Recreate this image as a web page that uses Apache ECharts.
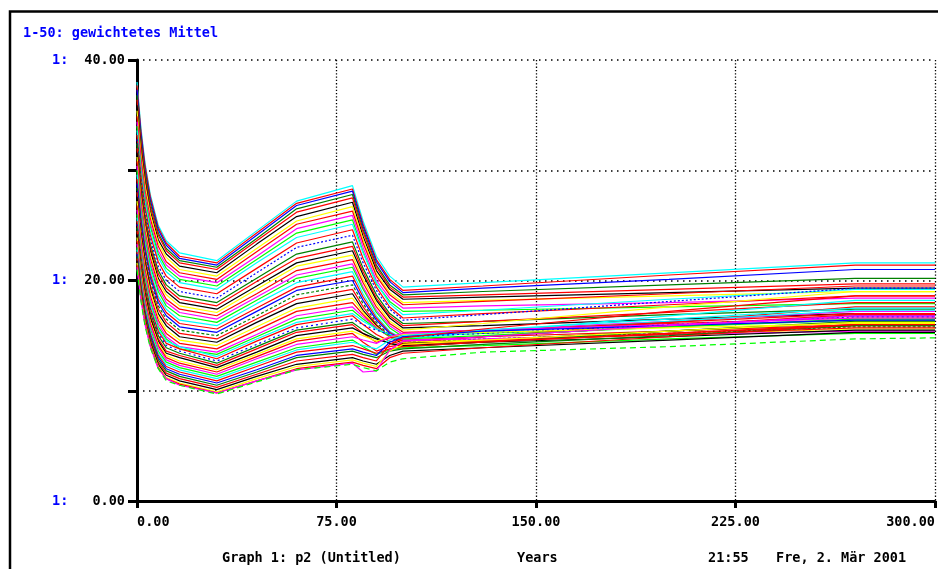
<!DOCTYPE html>
<html>
<head>
<meta charset="utf-8">
<script src="https://cdn.jsdelivr.net/npm/echarts@6/dist/echarts.min.js"></script>
<style>
html,body{margin:0;padding:0;background:#fff;}
#chart{width:938px;height:569px;}
</style>
</head>
<body>
<div id="chart"></div>
<script>
// ---- data ----
const years = [0, 1.5, 3, 5, 8, 11, 16, 30, 45, 60, 81, 85, 90, 95, 100, 130, 200, 270, 300];
const xTickValues = [0, 75, 150, 225, 300];
const yTickValues = [0, 10, 20, 30, 40];
const titleText = '1-50: gewichtetes Mittel';
const footerGraph = 'Graph 1: p2 (Untitled)';
const footerUnit = 'Years';
const footerTime = '21:55';
const footerDate = 'Fre, 2. Mär 2001';

const p01 = [38.0,33.8,30.7,27.8,25.0,23.6,22.5,21.8,24.5,27.2,28.6,25.4,22.2,20.4,19.4,19.8,20.7,21.6,21.6];
const p02 = [37.7,33.5,30.5,27.6,24.8,23.4,22.2,21.6,24.3,27.0,28.3,25.1,21.9,20.1,19.1,19.5,20.5,21.4,21.4];
const p03 = [37.3,33.2,30.1,27.3,24.6,23.2,22.0,21.4,24.1,26.8,28.1,24.9,21.7,19.9,18.9,19.3,20.1,21.0,21.0];
const p04 = [36.8,32.7,29.8,27.0,24.3,22.9,21.8,21.2,23.8,26.5,27.8,24.6,21.4,19.6,18.7,19.0,19.6,20.2,20.2];
const p05 = [36.4,32.4,29.5,26.7,24.1,22.7,21.6,21.0,23.6,26.2,27.5,24.4,21.2,19.4,18.5,18.7,19.2,19.7,19.7];
const p06 = [35.9,31.9,29.1,26.3,23.7,22.4,21.3,20.7,23.3,25.8,27.1,24.0,20.9,19.2,18.3,18.5,18.9,19.3,19.3];
const p07 = [35.4,31.5,28.7,26.0,23.4,22.1,21.0,20.4,22.9,25.4,26.7,23.7,20.6,18.9,18.0,18.2,18.6,19.0,19.0];
const p08 = [34.9,31.1,28.2,25.6,23.1,21.7,20.7,20.1,22.6,25.1,26.3,23.4,20.4,18.7,17.8,18.1,18.8,19.5,19.5];
const p09 = [34.4,30.6,27.8,25.2,22.7,21.4,20.4,19.8,22.2,24.7,25.9,23.0,20.0,18.4,17.5,17.7,18.0,18.4,18.4];
const p10 = [34.0,30.2,27.5,24.9,22.4,21.1,20.1,19.5,21.9,24.3,25.5,22.6,19.7,18.1,17.2,17.3,17.6,17.9,17.9];
const p11 = [33.6,29.9,27.1,24.5,22.1,20.8,19.8,19.2,21.6,23.9,25.1,22.5,19.8,17.9,16.9,17.3,18.3,19.2,19.2];
const p12 = [33.2,29.5,26.7,24.1,21.7,20.4,19.4,18.8,21.1,23.4,24.6,22.0,19.4,17.6,16.6,17.0,17.8,18.6,18.6];
const p13 = [32.8,29.1,26.3,23.7,21.3,20.0,19.0,18.4,20.7,23.0,24.1,21.6,19.1,17.4,16.4,16.9,18.1,19.3,19.3];
const p14 = [32.4,28.7,25.9,23.3,20.9,19.6,18.6,18.0,20.2,22.4,23.5,21.1,18.7,17.0,16.1,16.3,16.9,17.4,17.4];
const p15 = [32.0,28.3,25.6,23.0,20.6,19.3,18.3,17.7,19.9,22.0,23.1,20.8,18.4,16.8,15.9,16.3,17.1,18.0,18.0];
const p16 = [31.6,27.9,25.2,22.7,20.2,19.0,18.0,17.4,19.5,21.6,22.7,20.5,18.2,16.6,15.7,15.9,16.5,17.0,17.0];
const p17 = [31.2,27.5,24.9,22.3,19.9,18.7,17.7,17.1,19.2,21.3,22.3,20.1,17.9,16.3,15.5,16.1,17.6,19.0,19.0];
const p18 = [30.8,27.2,24.5,22.0,19.6,18.3,17.4,16.8,18.8,20.9,21.9,19.8,17.6,16.1,15.3,15.5,16.1,16.6,16.6];
const p19 = [30.4,26.8,24.2,21.6,19.3,18.0,17.1,16.5,18.5,20.5,21.5,19.4,17.3,15.9,15.1,15.5,16.3,17.2,17.2];
const p20 = [30.0,26.4,23.8,21.3,19.0,17.7,16.8,16.2,18.2,20.2,21.2,19.2,17.1,15.7,14.9,15.2,15.8,16.4,16.4];
const p21 = [29.6,26.0,23.4,21.0,18.6,17.4,16.4,15.9,17.9,19.8,20.8,18.8,16.8,15.4,14.7,15.3,16.8,18.2,18.2];
const p22 = [29.2,25.7,23.1,20.6,18.3,17.1,16.1,15.6,17.5,19.4,20.4,18.5,16.6,15.3,14.6,14.9,15.4,16.0,16.0];
const p23 = [28.8,25.3,22.7,20.3,18.0,16.8,15.8,15.3,17.2,19.1,20.0,18.2,16.4,15.2,14.5,14.9,15.9,16.8,16.8];
const p24 = [28.4,24.9,22.4,20.0,17.7,16.5,15.5,15.0,16.8,18.7,19.6,17.9,16.2,15.0,14.4,14.7,15.2,15.8,15.8];
const p25 = [28.0,24.5,22.0,19.6,17.4,16.2,15.2,14.7,16.5,18.3,19.2,17.6,16.0,14.9,14.3,14.9,16.2,17.6,17.6];
const p26 = [27.6,24.2,21.7,19.3,17.0,15.9,14.9,14.4,16.2,17.9,18.8,17.3,15.9,14.9,14.3,14.6,15.4,16.2,16.2];
const p27 = [27.2,23.8,21.3,19.0,16.7,15.5,14.6,14.1,15.8,17.5,18.4,17.1,15.8,14.9,14.4,14.6,15.1,15.6,15.6];
const p28 = [26.8,23.4,21.0,18.6,16.4,15.2,14.3,13.8,15.5,17.2,18.0,16.9,15.7,14.9,14.5,14.9,15.9,16.9,16.9];
const p29 = [26.4,23.1,20.6,18.3,16.1,14.9,14.0,13.5,15.1,16.8,17.6,16.7,15.7,15.0,14.6,14.7,15.1,15.4,15.4];
const p30 = [26.0,22.7,20.3,18.0,15.8,14.7,13.8,13.3,14.9,16.5,17.3,16.5,15.6,15.0,14.7,15.0,15.8,16.5,16.5];
const p31 = [25.7,22.4,20.0,17.8,15.6,14.5,14.0,13.1,14.7,16.2,17.0,16.3,15.6,15.1,14.8,15.3,16.3,17.3,17.3];
const p32 = [25.4,22.2,19.8,17.5,15.4,14.3,13.8,12.9,14.5,16.0,16.8,16.0,15.1,14.5,14.2,14.5,15.2,15.9,15.9];
const p33 = [25.1,21.9,19.5,17.3,15.2,14.1,13.6,12.7,14.2,15.7,16.5,16.0,15.5,15.1,14.9,15.2,16.0,16.7,16.7];
const p34 = [24.8,21.6,19.3,17.1,15.0,13.9,13.4,12.5,14.0,15.5,16.2,15.5,14.8,14.3,14.0,14.4,15.4,16.3,16.3];
const p35 = [24.5,21.3,19.0,16.8,14.7,13.6,13.2,12.3,13.8,15.3,16.0,15.2,14.4,14.8,15.0,15.4,16.2,17.0,17.0];
const p36 = [24.2,21.1,18.8,16.6,14.5,13.4,13.0,12.1,13.5,15.0,15.7,15.2,14.7,14.3,14.1,14.4,14.9,15.5,15.5];
const p37 = [23.9,20.8,18.5,16.3,14.3,13.2,12.7,11.9,13.3,14.7,15.4,15.0,14.5,14.9,15.1,15.3,15.7,16.1,16.1];
const p38 = [23.6,20.5,18.3,16.1,14.1,13.0,12.5,11.7,13.1,14.5,15.2,14.4,13.6,14.0,14.2,14.5,15.1,15.7,15.7];
const p39 = [23.3,20.2,18.0,15.9,13.9,12.8,12.3,11.5,12.9,14.2,14.9,14.6,14.3,14.9,15.2,15.5,16.0,16.6,16.6];
const p40 = [23.0,20.0,17.7,15.6,13.6,12.6,12.1,11.3,12.6,13.9,14.6,14.0,13.3,13.7,13.9,14.1,14.7,15.2,15.2];
const p41 = [22.8,19.8,17.5,15.4,13.4,12.4,11.9,11.1,12.4,13.7,14.4,14.1,13.8,14.6,15.0,15.5,16.5,17.5,17.5];
const p42 = [22.6,19.6,17.3,15.2,13.2,12.2,11.7,10.9,12.2,13.5,14.1,13.8,13.4,13.8,14.0,14.4,15.2,16.0,16.0];
const p43 = [22.4,19.4,17.1,15.0,13.0,12.0,11.5,10.7,11.9,13.2,13.8,13.5,13.2,14.4,14.9,15.4,15.9,16.4,16.4];
const p44 = [22.2,19.2,16.9,14.8,12.8,11.8,11.3,10.5,11.7,13.0,13.6,13.3,13.0,13.6,13.8,14.2,15.0,15.9,15.9];
const p45 = [22.0,19.0,16.7,14.6,12.6,11.6,11.1,10.3,11.5,12.7,13.3,13.0,12.7,14.2,14.8,15.6,17.2,18.6,18.6];
const p46 = [21.8,18.8,16.5,14.4,12.4,11.4,10.9,10.1,11.3,12.4,13.0,12.7,12.4,13.2,13.6,13.9,14.6,15.3,15.3];
const p47 = [21.6,18.6,16.3,14.2,12.2,11.2,10.7,9.9,11.1,12.2,12.8,12.5,12.2,13.6,14.2,14.6,15.4,16.2,16.2];
const p48 = [21.4,18.4,16.2,14.1,12.1,11.1,10.6,9.8,10.9,12.0,12.6,12.3,12.0,13.0,13.4,13.9,14.9,16.0,16.0];
const p49 = [21.2,18.2,16.0,14.0,12.0,11.1,10.5,9.8,10.9,11.9,12.5,11.7,11.8,13.7,14.5,14.9,15.9,16.8,16.8];
const p50 = [21.0,18.1,15.9,13.9,12.0,10.9,10.5,9.7,10.8,11.9,12.4,12.1,11.8,12.6,12.9,13.5,14.0,14.7,14.8];

const seriesValues = [p01,p02,p03,p04,p05,p06,p07,p08,p09,p10,p11,p12,p13,p14,p15,p16,p17,p18,p19,p20,
  p21,p22,p23,p24,p25,p26,p27,p28,p29,p30,p31,p32,p33,p34,p35,p36,p37,p38,p39,p40,
  p41,p42,p43,p44,p45,p46,p47,p48,p49,p50];

// ---- styles ----
const palette = ['#00ffff','#ff0000','#0000ff','#008000','#ff0000','#000000','#ffff00','#ff0000','#ff00ff','#00ff00'];
const dashedIdx = {12: [2, 2], 32: [2, 3], 49: [6, 4], 23: [3, 2]};
const FONT = '"DejaVu Sans Mono"';
const FONT_CSS = 'bold 13.5px "DejaVu Sans Mono"';

const chart = echarts.init(document.getElementById('chart'), null, {renderer: 'canvas'});

const series = seriesValues.map((vals, i) => ({
  type: 'line',
  name: String(i + 1),
  data: years.map((t, k) => [t, vals[k]]),
  showSymbol: false,
  symbol: 'none',
  silent: true,
  lineStyle: {
    color: palette[i % palette.length],
    width: 1.2,
    type: dashedIdx[i] || 'solid'
  },
  z: 2
}));

const option = {
  animation: false,
  backgroundColor: '#ffffff',
  grid: {left: 137, right: 3, top: 60, bottom: 68, containLabel: false},
  xAxis: {
    type: 'value',
    min: 0, max: 300, interval: 75,
    axisLine: {show: true, onZero: false, lineStyle: {color: '#000', width: 3}},
    axisTick: {show: true, length: 7, lineStyle: {color: '#000', width: 3}},
    axisLabel: {
      margin: 14,
      color: '#000',
      fontFamily: FONT, fontWeight: 'bold', fontSize: 13.5,
      alignMinLabel: 'left', alignMaxLabel: 'right',
      formatter: v => xTickValues.includes(v) ? v.toFixed(2) : ''
    },
    splitLine: {show: true, lineStyle: {color: '#000', width: 1.3, type: [1.3, 2]}}
  },
  yAxis: {
    type: 'value',
    min: 0, max: 40, interval: 10,
    axisLine: {show: true, onZero: false, lineStyle: {color: '#000', width: 3}},
    axisTick: {show: true, length: 9, lineStyle: {color: '#000', width: 3}},
    axisLabel: {
      margin: 12,
      fontFamily: FONT, fontWeight: 'bold', fontSize: 13.5,
      formatter: v => (yTickValues.includes(v) && v % 20 === 0) ? '{a|1:}{b|' + v.toFixed(2) + '}' : '',
      rich: {
        a: {color: '#0000ff', width: 29, align: 'left', fontFamily: FONT, fontWeight: 'bold', fontSize: 13.5},
        b: {color: '#000', width: 44, align: 'right', fontFamily: FONT, fontWeight: 'bold', fontSize: 13.5}
      }
    },
    splitLine: {show: true, lineStyle: {color: '#000', width: 1.5, type: [1.5, 4.5]}}
  },
  graphic: [
    {type: 'rect', silent: true, z: 100,
     shape: {x: 10, y: 11.5, width: 1000, height: 1000},
     style: {fill: 'none', stroke: '#000', lineWidth: 2.5}},
    {type: 'text', left: 23, top: 26, silent: true,
     style: {text: titleText, fill: '#0000ff', font: FONT_CSS}},
    {type: 'text', left: 222, top: 551, silent: true,
     style: {text: footerGraph, fill: '#000', font: FONT_CSS}},
    {type: 'text', left: 517, top: 551, silent: true,
     style: {text: footerUnit, fill: '#000', font: FONT_CSS}},
    {type: 'text', left: 708, top: 551, silent: true,
     style: {text: footerTime, fill: '#000', font: FONT_CSS}},
    {type: 'text', left: 776, top: 551, silent: true,
     style: {text: footerDate, fill: '#000', font: FONT_CSS}}
  ],
  series: series
};

chart.setOption(option);
</script>
</body>
</html>
